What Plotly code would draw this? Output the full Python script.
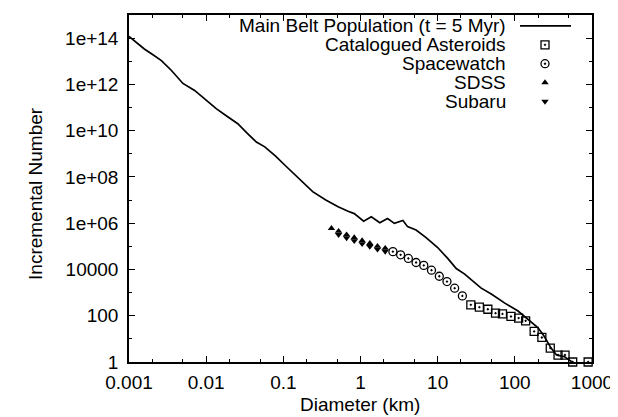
import plotly.graph_objects as go

# ---------------- data ----------------
main_d = [0.001, 0.00126, 0.00158, 0.002, 0.00263, 0.00355, 0.005, 0.00708, 0.01, 0.0135,
          0.019, 0.0257, 0.0339, 0.0447, 0.0575, 0.0794, 0.105, 0.135, 0.17, 0.24,
          0.355, 0.513, 0.69, 0.83, 1.10, 1.38, 1.78, 2.24, 2.75, 3.55,
          4.07, 5.25, 7.08, 10.0, 13.5, 17.4, 22.4, 28.8, 36.3, 50.1,
          74.1, 110, 141, 200, 240, 295, 347, 437, 537, 631]
main_n = [1.2e14, 6.3e13, 3.4e13, 2.0e13, 1.07e13, 4.0e12, 1.1e12, 5.5e11, 2.0e11, 8.9e10,
          4.0e10, 2.0e10, 7.9e9, 3.2e9, 2.0e9, 7.9e8, 3.2e8, 1.4e8, 7.2e7, 2.3e7,
          1.0e7, 5.1e6, 3.3e6, 2.6e6, 1.23e6, 1.9e6, 1.05e6, 1.6e6, 9.8e5, 1.3e6,
          7.1e5, 5.1e5, 2.4e5, 8.9e4, 3.0e4, 1.1e4, 6300, 3000, 1600, 850,
          350, 160, 79, 30, 13, 4.0, 2.0, 1.7, 1.07, 0.5]

cat_d = [26.9, 34.7, 44.7, 56.2, 69.2, 89.1, 112, 138, 178, 224, 288, 363, 447, 562, 891]
cat_n = [295, 234, 191, 129, 120, 93, 79, 60, 21, 11.5, 4, 2, 2, 1, 1]

sw_d = [2.63, 3.31, 4.17, 5.25, 6.61, 8.32, 10.5, 13.2, 16.6, 20.9]
sw_n = [5.9e4, 4.3e4, 3.0e4, 2.0e4, 1.5e4, 9300, 5100, 3000, 1550, 720]

sdss_d = [0.42, 0.52, 0.66, 0.83, 1.05, 1.32, 1.66, 2.09]
sdss_n = [6.0e5, 4.5e5, 3.2e5, 2.4e5, 1.78e5, 1.35e5, 1.02e5, 8.3e4]

sub_d = [0.52, 0.66, 0.83, 1.05, 1.32, 1.66, 2.09]
sub_n = [3.2e5, 2.3e5, 1.74e5, 1.29e5, 9.8e4, 7.4e4, 6.0e4]

x_ticks = [0.001, 0.01, 0.1, 1, 10, 100, 1000]
x_ticktext = ["0.001", "0.01", "0.1", "1", "10", "100", "1000"]
x_minor = [0.002, 0.005, 0.02, 0.05, 0.2, 0.5, 2, 5, 20, 50, 200, 500]
y_ticks = [1, 1e2, 1e4, 1e6, 1e8, 1e10, 1e12, 1e14]
y_ticktext = ["1", "100", "10000", "1e+06", "1e+08", "1e+10", "1e+12", "1e+14"]
y_minor = [1e1, 1e3, 1e5, 1e7, 1e9, 1e11, 1e13]

legend_labels = ["Main Belt Population (t = 5 Myr)", "Catalogued Asteroids",
                 "Spacewatch", "SDSS", "Subaru"]

# ---------------- styling / layout constants ----------------
W, H = 618, 417
L, R, T, B = 121, 34, 5, 63
PW, PH = W - L - R, H - T - B
FONT = dict(family="Liberation Sans, Arial, Helvetica, sans-serif", size=19, color="black")

SQ = dict(symbol="square-open-dot", size=8, color="black", line=dict(width=1.3, color="black"))
CI = dict(symbol="circle-open-dot", size=8, color="black", line=dict(width=1.3, color="black"))
TU = dict(symbol="triangle-up", size=6.5, color="black", line=dict(width=0))
TD = dict(symbol="triangle-down", size=6.5, color="black", line=dict(width=0))

def px_x(p):
    return (p - L) / PW

def px_y(p):
    return (H - B - p) / PH

fig = go.Figure()
fig.add_trace(go.Scatter(x=main_d, y=main_n, mode="lines",
                         line=dict(color="black", width=1.7), showlegend=False))
fig.add_trace(go.Scatter(x=cat_d, y=cat_n, mode="markers", cliponaxis=False,
                         marker=SQ, showlegend=False))
fig.add_trace(go.Scatter(x=sw_d, y=sw_n, mode="markers", marker=CI, showlegend=False))
fig.add_trace(go.Scatter(x=sdss_d, y=sdss_n, mode="markers", marker=TU, showlegend=False))
fig.add_trace(go.Scatter(x=sub_d, y=sub_n, mode="markers", marker=TD, showlegend=False))

# ---------------- gnuplot-style key (text right, sample on right) ----------------
rows = [16, 35, 54, 73, 92]
text_right = 500
key_x = 537
for lab, ry in zip(legend_labels, rows):
    fig.add_annotation(text=lab, xref="paper", yref="paper", x=px_x(text_right), y=px_y(ry),
                       xanchor="right", yanchor="middle", showarrow=False, font=FONT)

fig.add_trace(go.Scatter(x=[px_x(512), px_x(563)], y=[px_y(rows[0])] * 2, mode="lines",
                         line=dict(color="black", width=1.7), xaxis="x2", yaxis="y2",
                         showlegend=False, hoverinfo="skip"))
for st, ry in zip([SQ, CI, TU, TD], rows[1:]):
    fig.add_trace(go.Scatter(x=[px_x(key_x)], y=[px_y(ry)], mode="markers", marker=st,
                             xaxis="x2", yaxis="y2", showlegend=False, hoverinfo="skip"))

# axis titles
fig.add_annotation(text="Diameter (km)", xref="paper", yref="paper",
                   x=px_x(352), y=px_y(397), xanchor="center", yanchor="middle",
                   showarrow=False, font=FONT)
fig.add_annotation(text="Incremental Number", xref="paper", yref="paper",
                   x=px_x(28), y=px_y(185), xanchor="center", yanchor="middle",
                   textangle=-90, showarrow=False, font=FONT)

axis_common = dict(showline=True, linecolor="black", linewidth=1.5, mirror="ticks",
                   ticks="inside", ticklen=6, tickwidth=1.2, tickcolor="black",
                   showgrid=False, zeroline=False, tickfont=FONT)

fig.update_layout(
    width=W, height=H,
    margin=dict(l=L, r=R, t=T, b=B),
    paper_bgcolor="white", plot_bgcolor="white",
    font=FONT,
    xaxis=dict(type="log", range=[-3, 3], tickmode="array", tickvals=x_ticks,
               ticktext=x_ticktext, ticklabelstandoff=2,
               minor=dict(tickmode="array", tickvals=x_minor, ticks="inside", ticklen=3.5,
                          tickwidth=1.1, tickcolor="black", showgrid=False),
               **axis_common),
    yaxis=dict(type="log", range=[0, 15], tickmode="array", tickvals=y_ticks,
               ticktext=y_ticktext, ticklabelstandoff=5,
               minor=dict(tickmode="array", tickvals=y_minor, ticks="inside", ticklen=3.5,
                          tickwidth=1.1, tickcolor="black", showgrid=False),
               **axis_common),
    xaxis2=dict(overlaying="x", range=[0, 1], visible=False, fixedrange=True),
    yaxis2=dict(overlaying="y", range=[0, 1], visible=False, fixedrange=True),
)

fig.write_html("out.html")
